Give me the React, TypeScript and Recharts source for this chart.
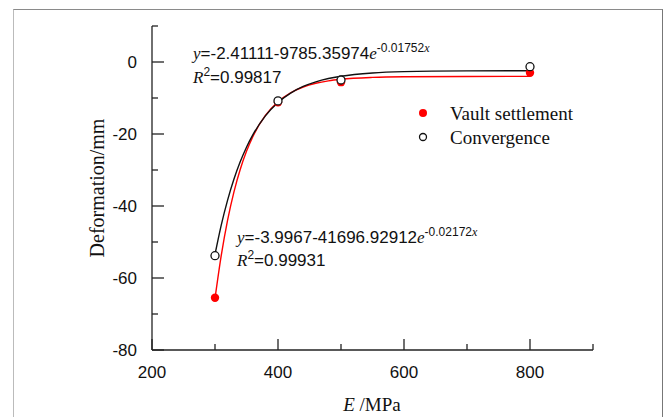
import React from "react";
import {
  ComposedChart,
  Line,
  Scatter,
  XAxis,
  YAxis,
  Customized,
} from "recharts";

// measured points
const VAULT_X = [300, 400, 500, 800];
const VAULT_Y = [-65.5, -11.2, -5.6, -3.0];
const CONV_X = [300, 400, 500, 800];
const CONV_Y = [-53.8, -10.8, -5.0, -1.3];

// fitted curves
const FIT_X = [300, 310, 320, 330, 340, 350, 360, 380, 400, 420, 440, 460, 480, 500, 550, 600, 700, 800];
const VAULT_FIT = [-65.69, -53.65, -43.9, -36.15, -29.87, -24.82, -20.76, -14.85, -11.03, -8.55, -6.95, -5.91, -5.23, -4.8, -4.27, -4.09, -4.01, -4.0];
const CONV_FIT = [-53.45, -45.25, -38.36, -32.59, -27.74, -23.67, -20.25, -14.98, -11.26, -8.65, -6.8, -5.51, -4.59, -3.95, -3.05, -2.68, -2.46, -2.42];

const X_TICKS = [200, 300, 400, 500, 600, 700, 800, 900];
const Y_TICKS = [-80, -70, -60, -50, -40, -30, -20, -10, 0, 10];

const vaultPts = VAULT_X.map((x, i) => ({ x, y: VAULT_Y[i] }));
const convPts = CONV_X.map((x, i) => ({ x, y: CONV_Y[i] }));
const vaultFit = FIT_X.map((x, i) => ({ x, y: VAULT_FIT[i] }));
const convFit = FIT_X.map((x, i) => ({ x, y: CONV_FIT[i] }));

const SANS = "'Liberation Sans', Arial, sans-serif";
const SERIF = "'Liberation Serif', 'Times New Roman', serif";
const AXIS = "#222";

function XTick(props: any) {
  const { x, y, payload } = props;
  const v = payload.value;
  const major = v % 200 === 0;
  return (
    <g>
      <line x1={x} x2={x} y1={y} y2={y - (major ? 11 : 6)} stroke={AXIS} strokeWidth={1.3} />
      {major && (
        <text x={x} y={y + 22} dy="0.35em" textAnchor="middle" fontFamily={SANS} fontSize={17} fill="#111">
          {v}
        </text>
      )}
    </g>
  );
}

function YTick(props: any) {
  const { x, y, payload } = props;
  const v = payload.value;
  const major = v % 20 === 0;
  return (
    <g>
      <line x1={x} x2={x + (major ? 12 : 6)} y1={y} y2={y} stroke={AXIS} strokeWidth={1.3} />
      {major && (
        <text x={x - 15} y={y} dy="0.35em" textAnchor="end" fontFamily={SANS} fontSize={17} fill="#111">
          {v}
        </text>
      )}
    </g>
  );
}

function Notes() {
  return (
    <g fill="#111">
      <text x={193} y={53} dy="0.35em" fontSize={17} fontFamily={SANS}>
        <tspan fontFamily={SERIF} fontStyle="italic">y</tspan>
        <tspan>=-2.41111-9785.35974</tspan>
        <tspan fontFamily={SERIF} fontStyle="italic">e</tspan>
        <tspan fontSize={12} dy={-7}>-0.01752</tspan>
        <tspan fontSize={12} fontFamily={SERIF} fontStyle="italic">x</tspan>
      </text>
      <text x={193} y={77} dy="0.35em" fontSize={17} fontFamily={SANS}>
        <tspan fontFamily={SERIF} fontStyle="italic">R</tspan>
        <tspan fontSize={12} dy={-7}>2</tspan>
        <tspan dy={7}>=0.99817</tspan>
      </text>
      <text x={237} y={237} dy="0.35em" fontSize={17} fontFamily={SANS}>
        <tspan fontFamily={SERIF} fontStyle="italic">y</tspan>
        <tspan>=-3.9967-41696.92912</tspan>
        <tspan fontFamily={SERIF} fontStyle="italic">e</tspan>
        <tspan fontSize={12} dy={-7}>-0.02172</tspan>
        <tspan fontSize={12} fontFamily={SERIF} fontStyle="italic">x</tspan>
      </text>
      <text x={237} y={260} dy="0.35em" fontSize={17} fontFamily={SANS}>
        <tspan fontFamily={SERIF} fontStyle="italic">R</tspan>
        <tspan fontSize={12} dy={-7}>2</tspan>
        <tspan dy={7}>=0.99931</tspan>
      </text>

      <circle cx={423} cy={113} r={4} fill="#ff0000" />
      <text x={450} y={113} dy="0.35em" fontSize={19} fontFamily={SERIF}>Vault settlement</text>
      <circle cx={423} cy={137} r={3.5} fill="#fff" stroke="#111" strokeWidth={1.3} />
      <text x={450} y={137} dy="0.35em" fontSize={19} fontFamily={SERIF}>Convergence</text>

      <text x={372} y={404} dy="0.35em" textAnchor="middle" fontSize={19} fontFamily={SERIF}>
        <tspan fontStyle="italic">E</tspan>
        <tspan> /MPa</tspan>
      </text>
      <text
        x={97}
        y={188}
        dy="0.35em"
        textAnchor="middle"
        fontSize={20}
        fontFamily={SERIF}
        transform="rotate(-90 97 188)"
      >
        Deformation/mm
      </text>
    </g>
  );
}

const dot = (color: string, open: boolean) => (p: any) =>
  open ? (
    <circle cx={p.cx} cy={p.cy} r={4} fill="#fff" stroke={color} strokeWidth={1.3} />
  ) : (
    <circle cx={p.cx} cy={p.cy} r={4.2} fill={color} />
  );

export default function App() {
  return (
    <div style={{ position: "fixed", left: 0, top: 0, width: 665, height: 417, overflow: "hidden", background: "#fff" }}>
      <div
        style={{
          position: "absolute",
          left: 13,
          top: 9,
          width: 648,
          height: 430,
          borderTop: "1.5px solid #8a8a8a",
          borderLeft: "1.5px solid #bbb",
          borderRight: "1.5px solid #777",
        }}
      />
      <div style={{ position: "absolute", left: 0, top: 0 }}>
        <ComposedChart width={665} height={417} margin={{ top: 26, right: 72, bottom: 0, left: 62 }}>
          <XAxis
            dataKey="x"
            type="number"
            domain={[200, 900]}
            ticks={X_TICKS}
            interval={0}
            height={67}
            tickSize={0}
            tickMargin={0}
            tick={<XTick />}
            stroke={AXIS}
            strokeWidth={1.3}
            allowDuplicatedCategory={false}
          />
          <YAxis
            type="number"
            domain={[-80, 10]}
            ticks={Y_TICKS}
            interval={0}
            width={90}
            tickSize={0}
            tickMargin={0}
            tick={<YTick />}
            stroke={AXIS}
            strokeWidth={1.3}
          />
          <Line data={vaultFit} dataKey="y" type="monotone" stroke="#ff0000" strokeWidth={1.4} dot={false} isAnimationActive={false} />
          <Line data={convFit} dataKey="y" type="monotone" stroke="#111" strokeWidth={1.4} dot={false} isAnimationActive={false} />
          <Scatter data={vaultPts} dataKey="y" fill="#ff0000" shape={dot("#ff0000", false)} isAnimationActive={false} />
          <Scatter data={convPts} dataKey="y" fill="#fff" shape={dot("#111", true)} isAnimationActive={false} />
          <Customized component={Notes} />
        </ComposedChart>
      </div>
    </div>
  );
}
